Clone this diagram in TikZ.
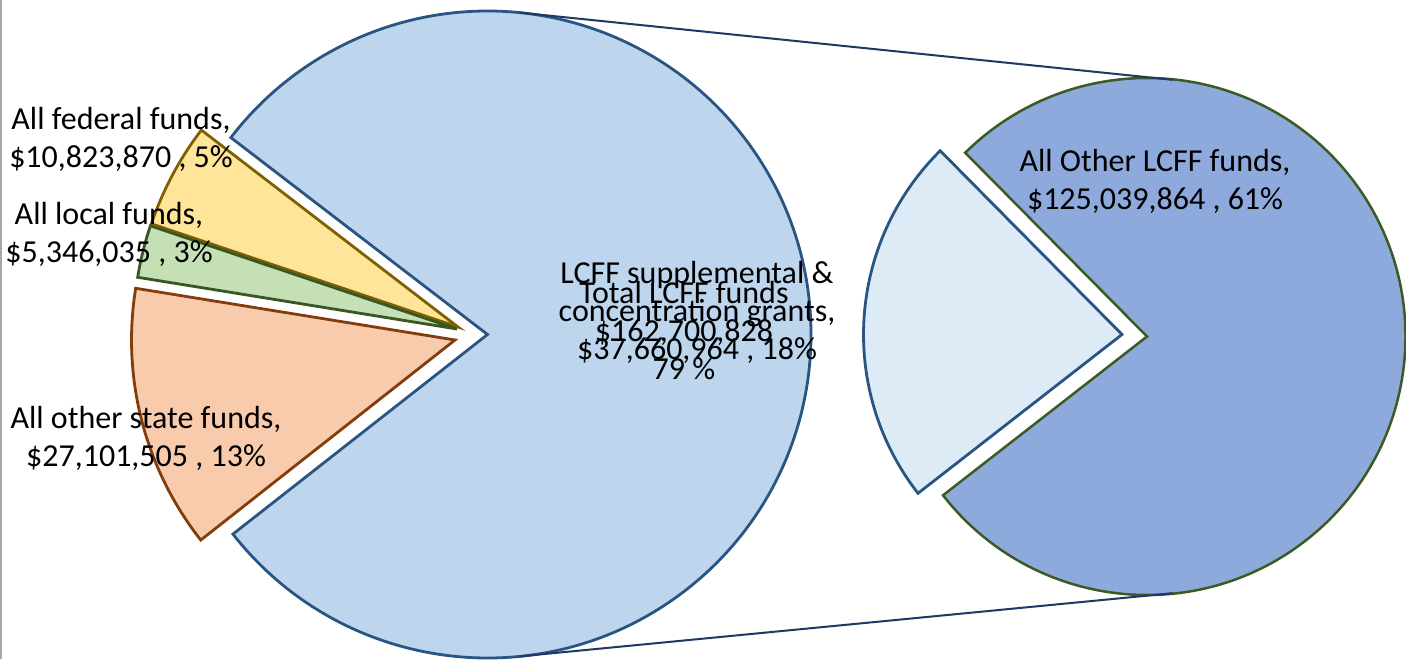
\documentclass[tikz,border=0pt]{standalone}
\usepackage{fontspec}
\setmainfont{Carlito}
\definecolor{bigfill}{RGB}{189,214,238}
\definecolor{bigline}{RGB}{40,85,130}
\definecolor{fedfill}{RGB}{255,229,153}
\definecolor{fedline}{RGB}{127,96,0}
\definecolor{locfill}{RGB}{197,224,180}
\definecolor{locline}{RGB}{56,87,35}
\definecolor{stfill}{RGB}{248,203,173}
\definecolor{stline}{RGB}{133,60,12}
\definecolor{darkfill}{RGB}{142,169,219}
\definecolor{darkline}{RGB}{60,90,35}
\definecolor{lightfill}{RGB}{221,235,247}
\definecolor{connc}{RGB}{31,56,100}
\begin{document}
\begin{tikzpicture}[x=1pt,y=1pt,
  slice/.style={line width=2.8pt, line join=miter},
  lbl/.style={font=\fontsize{32}{38}\selectfont, align=center, anchor=base, inner sep=0pt},
  conn/.style={draw=connc, line width=2pt}]
\useasboundingbox (0,0) rectangle (1406,659);
\fill[white] (0,0) rectangle (1406,659);
\draw[gray!70, line width=2pt] (1,0) -- (1,659);
% centres and vertices
\coordinate (C1) at (487.5,324.5);
\coordinate (C2) at (1147,322.5);
\coordinate (Vfed) at (458,332);
\coordinate (Vloc) at (457,330);
\coordinate (Vst) at (455,319);
\coordinate (Vlight) at (1122,324.5);
% main pie
\draw[slice, draw=bigline, fill=bigfill] (C1) -- ++(-141.9:323.5)
  arc[start angle=-141.9, end angle=142.5, radius=323.5] -- cycle;
\draw[slice, draw=fedline, fill=fedfill] (Vfed) -- ++(142.5:323.5)
  arc[start angle=142.5, end angle=161.4, radius=323.5] -- cycle;
\draw[slice, draw=locline, fill=locfill] (Vloc) -- ++(161.4:323.5)
  arc[start angle=161.4, end angle=170.8, radius=323.5] -- cycle;
\draw[slice, draw=stline, fill=stfill] (Vst) -- ++(170.8:323.5)
  arc[start angle=170.8, end angle=218.2, radius=323.5] -- cycle;
% secondary pie
\draw[line width=2.5pt, line join=miter, draw=darkline, fill=darkfill] (C2) -- ++(-142.1:258.5)
  arc[start angle=-142.1, end angle=134.7, radius=258.5] -- cycle;
\draw[slice, draw=bigline, fill=lightfill] (Vlight) -- ++(134.7:258.5)
  arc[start angle=134.7, end angle=217.9, radius=258.5] -- cycle;
% connector lines
\coordinate (T1) at (519.6,646.4);
\coordinate (T2) at (1172.6,579.2);
\coordinate (B1) at (519.6,2.6);
\coordinate (B2) at (1172.6,65.8);
\draw[conn] (T1) -- (T2);
\draw[conn] (B1) -- (B2);
% labels (base anchor = baseline of last line)
\node[lbl] (fed) at (121,491) {All federal funds,\\\$10,823,870 , 5\%};
\node[lbl] (loc) at (109,396) {All local funds,\\\$5,346,035 , 3\%};
\node[lbl] (st) at (146,192) {All other state funds,\\\$27,101,505 , 13\%};
\node[lbl] (supp) at (697,299) {LCFF supplemental \&\\concentration grants,\\\$37,660,964 , 18\%};
\node[lbl] (tot) at (684,279) {Total LCFF funds\\\$162,700,828\\79 \%};
\node[lbl] (oth) at (1155,449) {All Other LCFF funds,\\\$125,039,864 , 61\%};
\end{tikzpicture}
\end{document}
